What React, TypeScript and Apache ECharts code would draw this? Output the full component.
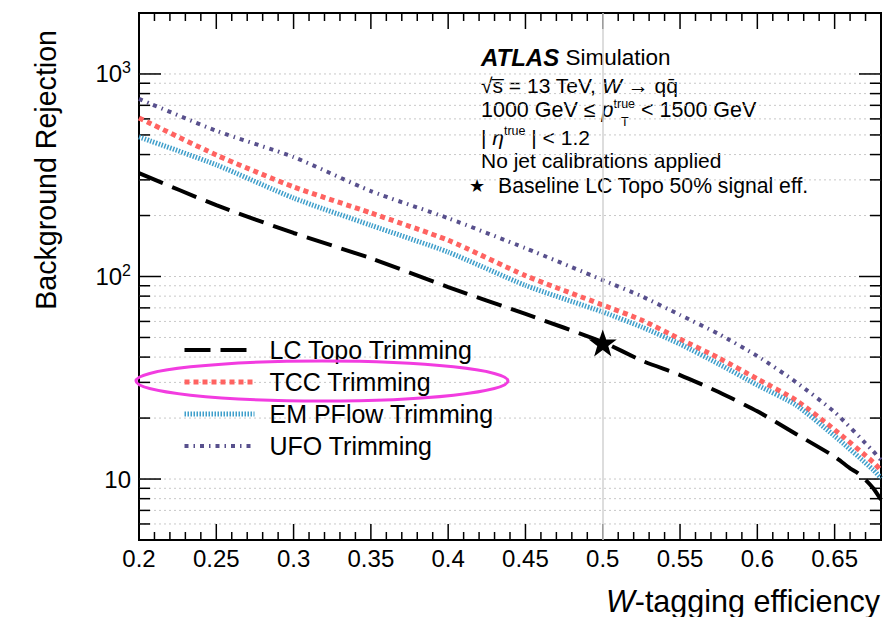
import React, { useEffect, useRef } from 'react';
import * as echarts from 'echarts';

// ---- data ----
const effX = [0.2, 0.25, 0.3, 0.35, 0.4, 0.45, 0.5, 0.525, 0.55, 0.575, 0.6, 0.625, 0.65, 0.675, 0.68];
const lcX = [0.2, 0.25, 0.3, 0.35, 0.4, 0.45, 0.5, 0.525, 0.55, 0.575, 0.6, 0.625, 0.65, 0.66, 0.665, 0.67, 0.675, 0.68];
const lcTopo = [324, 225, 164, 123, 88.7, 65.3, 47.5, 38.5, 32.6, 26.9, 21.6, 16.7, 12.9, 11.3, 10.7, 9.9, 9.0, 7.9];
const tcc = [607, 398, 277, 206, 151, 101, 72.3, 61, 49.1, 39.6, 31.2, 24.5, 17.5, 12.1, 11.0];
const emPFlow = [489, 356, 244, 179, 132, 90.4, 66.8, 56.4, 46.4, 37.0, 29.1, 23.2, 16.3, 11.1, 10.1];
const ufo = [753, 524, 389, 264, 194, 138, 96, 80, 64.6, 52.0, 40.5, 30.1, 21.4, 13.7, 12.4];
const baselinePoint = [[0.5, 47]];
const seriesNames = ['LC Topo Trimming', 'TCC Trimming', 'EM PFlow Trimming', 'UFO Trimming'];
const yMajorTicks = [10, 100, 1000];
const yMinorTicks = [6, 7, 8, 9, 20, 30, 40, 50, 60, 70, 80, 90, 200, 300, 400, 500, 600, 700, 800, 900];
const xMin = 0.2;
const xMax = 0.68;
const yMin = 5;
const yMax = 2000;

const FONT = 'Liberation Sans';
const STAR = 'path://M50,2 L61.5,36 L97,36 L68.5,57.5 L79,92 L50,71 L21,92 L31.5,57.5 L3,36 L38.5,36 Z';

const lineStyles = [
  { color: '#000000', width: 4, type: [26, 10] },
  { color: '#ff6361', width: 5, type: [5, 4] },
  { color: '#3f9fcb', width: 5, type: [1.5, 1.5] },
  { color: '#58508d', width: 4, type: [4, 5, 1.5, 5] },
];

function buildXTicks() {
  const out: number[][] = [];
  for (let i = 20; i <= 68; i++) out.push([i / 100, yMin, i % 5 === 0 ? 1 : 0]);
  return out;
}

export default function App() {
  const ref = useRef<HTMLDivElement>(null);
  useEffect(() => {
    if (!ref.current) return;
    const chart = echarts.init(ref.current, null, { renderer: 'svg' });
    const xTicks = buildXTicks();
    const yTicks = [
      ...yMajorTicks.map((v) => [xMin, v, 1]),
      ...yMinorTicks.map((v) => [xMin, v, 0]),
    ];
    const supLabel = (v: number) => {
      const e = Math.round(Math.log10(v));
      if (Math.abs(Math.log10(v) - e) > 1e-6) return '';
      if (e === 1) return '{b|10}';
      if (e === 2 || e === 3) return '{b|10}{s|' + e + '}';
      return '';
    };
    const curveData = [
      lcX.map((x, i) => [x, lcTopo[i]]),
      effX.map((x, i) => [x, tcc[i]]),
      effX.map((x, i) => [x, emPFlow[i]]),
      effX.map((x, i) => [x, ufo[i]]),
    ];
    const curves = seriesNames.map((name, k) => ({
      name, type: 'line', z: 3, symbol: 'none', showSymbol: false, smooth: 0.2,
      color: lineStyles[k].color,
      data: curveData[k],
      lineStyle: { ...lineStyles[k] },
      ...(k === 0
        ? {
            markLine: {
              silent: true, symbol: 'none', label: { show: false },
              lineStyle: { color: '#d2d2d2', width: 1.5, type: 'solid' },
              data: [{ xAxis: 0.5 }],
            },
          }
        : {}),
    }));
    const option: any = {
      animation: false,
      backgroundColor: '#fff',
      grid: { left: 139, top: 13, width: 742, height: 527, show: true, borderColor: '#000', borderWidth: 2, backgroundColor: 'transparent' },
      xAxis: {
        type: 'value', min: xMin, max: xMax, interval: 0.05,
        axisLine: { show: false }, axisTick: { show: false }, splitLine: { show: false },
        axisLabel: {
          fontSize: 24, fontFamily: FONT, color: '#000', margin: 6, showMaxLabel: false,
          formatter: (v: number) => String(+v.toFixed(2)),
        },
      },
      yAxis: {
        type: 'log', logBase: 10, min: yMin, max: yMax,
        axisLine: { show: false }, axisTick: { show: false }, splitLine: { show: false },
        axisLabel: {
          margin: 8, showMinLabel: false, showMaxLabel: false,
          formatter: supLabel,
          rich: {
            b: { fontSize: 24, fontFamily: FONT, color: '#000', lineHeight: 28 },
            s: { fontSize: 16, fontFamily: FONT, color: '#000', verticalAlign: 'top', lineHeight: 16 },
          },
        },
      },
      legend: {
        data: seriesNames.map((name, k) => ({
          name,
          itemStyle: { opacity: 0, borderWidth: 0 },
          lineStyle: { color: lineStyles[k].color, width: lineStyles[k].width, type: lineStyles[k].type, opacity: 1 },
        })),
        orient: 'vertical', left: 182, top: 334, padding: 0,
        itemWidth: 70, itemHeight: 14, itemGap: 0, selectedMode: false,
        itemStyle: { opacity: 0, borderWidth: 0 },
        textStyle: { fontSize: 25, fontFamily: FONT, color: '#000', lineHeight: 32, padding: [0, 0, 0, 10] },
      },
      series: [
        {
          type: 'custom', name: 'yticks', z: 1, silent: true, clip: false,
          data: yTicks,
          renderItem: (params: any, api: any) => {
            const v = api.value(1);
            const major = api.value(2) === 1;
            const pl = api.coord([xMin, v]);
            const pr = api.coord([xMax, v]);
            const len = major ? 22 : 11;
            return {
              type: 'group',
              children: [
                { type: 'line', shape: { x1: pl[0], y1: pl[1], x2: pr[0], y2: pr[1] }, style: { stroke: '#c8c8c8', lineWidth: 1, lineDash: [2, 3] } },
                { type: 'line', shape: { x1: pl[0], y1: pl[1], x2: pl[0] + len, y2: pl[1] }, style: { stroke: '#000', lineWidth: 1.5 } },
                { type: 'line', shape: { x1: pr[0] - len, y1: pr[1], x2: pr[0], y2: pr[1] }, style: { stroke: '#000', lineWidth: 1.5 } },
              ],
            };
          },
        },
        {
          type: 'custom', name: 'xticks', z: 1, silent: true, clip: false,
          data: xTicks,
          renderItem: (params: any, api: any) => {
            const x = api.value(0);
            const major = api.value(2) === 1;
            const pb = api.coord([x, yMin]);
            const pt = api.coord([x, yMax]);
            const len = major ? 16 : 8;
            return {
              type: 'group',
              children: [
                { type: 'line', shape: { x1: pb[0], y1: pb[1], x2: pb[0], y2: pb[1] - len }, style: { stroke: '#000', lineWidth: 1.5 } },
                { type: 'line', shape: { x1: pt[0], y1: pt[1], x2: pt[0], y2: pt[1] + len }, style: { stroke: '#000', lineWidth: 1.5 } },
              ],
            };
          },
        },
        ...curves,
        {
          name: 'baseline', type: 'scatter', z: 5, symbol: STAR, symbolSize: [28, 27],
          itemStyle: { color: '#000', opacity: 1 }, data: baselinePoint, silent: true,
        },
      ],
      graphic: [
        {
          type: 'text', x: 481, y: 57,
          style: {
            text: '{b|ATLAS}{n| Simulation}', verticalAlign: 'middle',
            rich: {
              b: { fontSize: 24, fontFamily: FONT, fontWeight: 'bold', fontStyle: 'italic', fill: '#000' },
              n: { fontSize: 22.5, fontFamily: FONT, fill: '#000' },
            },
          },
        },
        {
          type: 'text', x: 481, y: 85,
          style: {
            text: '{n|\u221As\u0305 = 13 TeV, }{i|W}{n| \u2192 qq\u0304}', verticalAlign: 'middle',
            rich: {
              n: { fontSize: 21, fontFamily: FONT, fill: '#000' },
              i: { fontSize: 21, fontFamily: FONT, fontStyle: 'italic', fill: '#000' },
            },
          },
        },
        {
          type: 'text', x: 481, y: 110,
          style: {
            text: '{n|1000 GeV \u2264 }{i|p}{sup|true}{n| < 1500 GeV}', verticalAlign: 'middle',
            rich: {
              n: { fontSize: 21.5, fontFamily: FONT, fill: '#000', lineHeight: 26 },
              i: { fontSize: 21.5, fontFamily: FONT, fontStyle: 'italic', fill: '#000', lineHeight: 26 },
              sup: { fontSize: 12.5, fontFamily: FONT, fill: '#000', verticalAlign: 'top', lineHeight: 12 },
            },
          },
        },
        { type: 'text', x: 621, y: 122, style: { text: 'T', fontSize: 12.5, fontFamily: FONT, fill: '#000', verticalAlign: 'middle' } },
        {
          type: 'text', x: 481, y: 137,
          style: {
            text: '{n|| }{i|\u03B7}{sup|true}{n| | < 1.2}', verticalAlign: 'middle',
            rich: {
              n: { fontSize: 21, fontFamily: FONT, fill: '#000', lineHeight: 26 },
              i: { fontSize: 21, fontFamily: FONT, fontStyle: 'italic', fill: '#000', lineHeight: 26 },
              sup: { fontSize: 12.5, fontFamily: FONT, fill: '#000', verticalAlign: 'top', lineHeight: 12 },
            },
          },
        },
        { type: 'text', x: 481, y: 160, style: { text: 'No jet calibrations applied', fontSize: 21, fontFamily: FONT, fill: '#000', verticalAlign: 'middle' } },
        { type: 'text', x: 477, y: 185, style: { text: '\u2605', fontSize: 18, fontFamily: 'DejaVu Sans', fill: '#000', align: 'center', verticalAlign: 'middle' } },
        { type: 'text', x: 498, y: 185, style: { text: 'Baseline LC Topo 50% signal eff.', fontSize: 21.2, fontFamily: FONT, fill: '#000', verticalAlign: 'middle' } },
        {
          type: 'text', x: 880, y: 601,
          style: {
            text: '{i|W}{n|-tagging efficiency}', align: 'right', verticalAlign: 'middle',
            rich: {
              i: { fontSize: 30.5, fontFamily: FONT, fontStyle: 'italic', fill: '#000' },
              n: { fontSize: 30.5, fontFamily: FONT, fill: '#000' },
            },
          },
        },
        {
          type: 'text', x: 46, y: 30, rotation: Math.PI / 2,
          style: { text: 'Background Rejection', fontSize: 28.6, fontFamily: FONT, fill: '#000', align: 'right', verticalAlign: 'middle' },
        },
        {
          type: 'ellipse', shape: { cx: 322, cy: 381, rx: 186, ry: 20 }, z: 100,
          style: { fill: 'none', stroke: '#f23ce0', lineWidth: 3 },
        },
      ],
    };
    chart.setOption(option);
    return () => chart.dispose();
  }, []);
  return <div ref={ref} style={{ position: 'fixed', left: 0, top: 0, width: 887, height: 617, background: '#fff' }} />;
}
